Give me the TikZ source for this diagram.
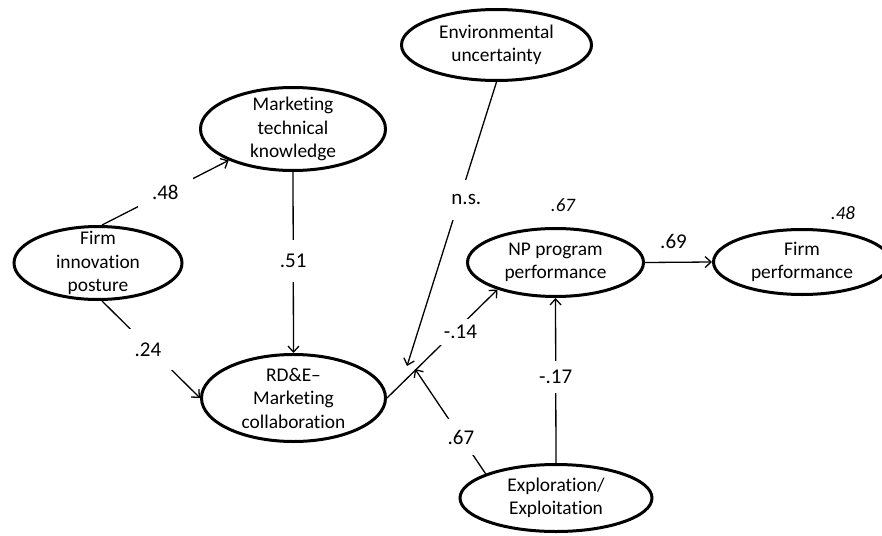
\documentclass[tikz,border=0pt]{standalone}
\usepackage{fontspec}
\setmainfont{Carlito}[Ligatures=NoCommon]
\usetikzlibrary{shapes.geometric,arrows.meta}
\begin{document}
\begin{tikzpicture}[x=1pt,y=-1pt,
  latent/.style={ellipse, draw, line width=3pt, inner sep=0pt,
    label={[align=center, font=\fontsize{19.4}{23.5}\selectfont]center:#1}},
  pathline/.style={line width=1.3pt, -{Straight Barb[length=6pt,width=11pt,line width=1.3pt]}},
  coef/.style={fill=white, font=\fontsize{21}{25}\selectfont, inner sep=#1},
  coef/.default=12pt,
  rsq/.style={font=\itshape\fontsize{19}{22}\selectfont, inner sep=0pt}
]
\clip (0,0) rectangle (882,535);
\fill[white] (0,0) rectangle (882,535);

\node[latent={Marketing\\technical\\knowledge}, minimum width=185pt, minimum height=83pt] (mtk) at (293,129) {};
\node[latent={Firm\\innovation\\posture}, minimum width=168pt, minimum height=73pt] (fip) at (98,263) {};
\node[latent={RD\&E--\\Marketing\\collaboration}, minimum width=184pt, minimum height=87pt] (rde) at (293.5,398) {};
\node[latent={Environmental\\uncertainty}, minimum width=190pt, minimum height=71pt] (env) at (496.5,45) {};
\node[latent={NP program\\performance}, minimum width=176pt, minimum height=68pt] (np) at (555.5,262.5) {};
\node[latent={Firm\\performance}, minimum width=177pt, minimum height=65pt] (fp) at (802,262) {};
\node[latent={Exploration/\\Exploitation}, minimum width=192pt, minimum height=67pt] (exp) at (556,498) {};

\node[rsq] (r2np) at (563,205) {.67};
\node[rsq] (r2fp) at (843,213) {.48};

\coordinate (mEnv) at (407,366);
\coordinate (mExp) at (415,369);

\draw[pathline] (fip.84) -- node[coef=14pt, midway] (c48) {.48} (mtk.206.6);
\draw[pathline] (fip.-84) -- node[coef=14pt, pos=0.5, xshift=-3pt] (c24) {.24} (rde.west);
\draw[pathline] (mtk.south) -- node[coef=14pt, pos=0.49] (c51) {.51} (rde.north);
\draw[pathline] (env.south) -- node[coef, inner xsep=3pt, inner ysep=15pt, pos=0.415, xshift=7pt] (cns) {n.s.} (mEnv);
\draw[pathline] (rde.east) -- node[coef=6pt, pos=0.61, xshift=6pt] (c14) {-.14} (np.205.5);
\draw[pathline] (exp.161.8) -- node[coef=11pt, pos=0.35] (c67) {.67} (mExp);
\draw[pathline] (exp.north) -- node[coef=9pt, pos=0.52] (c17) {-.17} (np.south);
\draw[pathline] (np.east) -- node[midway, above=13pt, inner sep=0pt, xshift=-5pt, font=\fontsize{21}{25}\selectfont] (c69) {.69} (fp.west);
\end{tikzpicture}
\end{document}
